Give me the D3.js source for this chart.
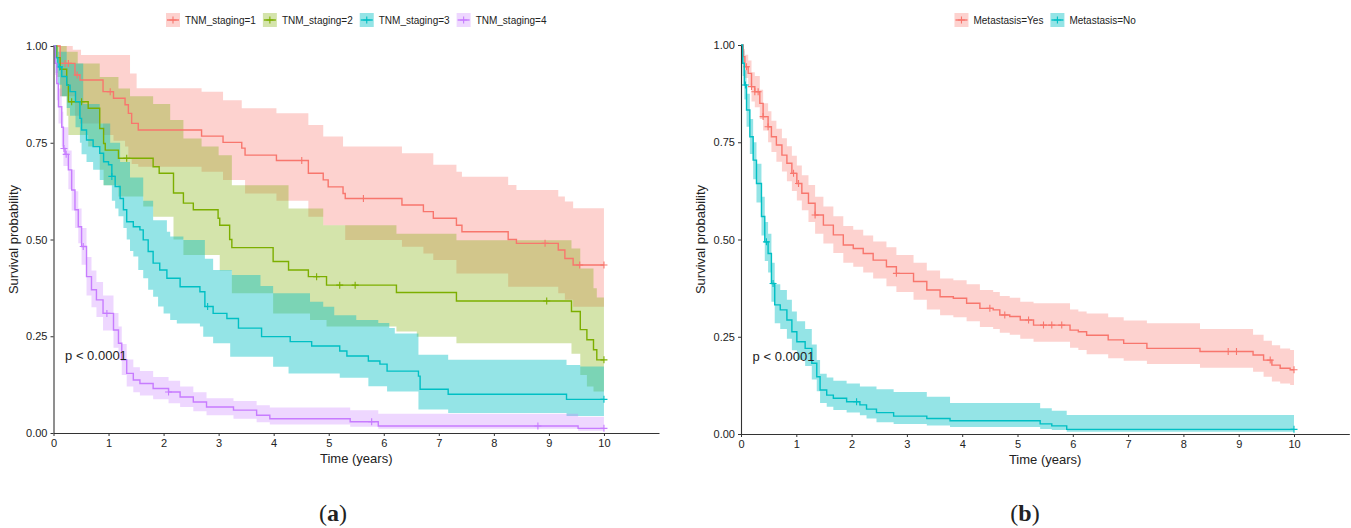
<!DOCTYPE html>
<html>
<head>
<meta charset="utf-8">
<script src="https://cdn.jsdelivr.net/npm/d3@7"></script>
<style>
  body { margin: 0; background: #fff; }
  text { font-family: "Liberation Sans", Arial, sans-serif; fill: #222; }
</style>
</head>
<body>
<svg id="fig" width="1351" height="528"></svg>
<script>
/*
 * Kaplan-Meier curves, two panels
 * values are [time (years), survival probability]
 */

// ---- panel (a) : TNM staging ----
var tnm1Surv = [[0,1],[0.12,0.955],[0.39,0.925],[0.48,0.912],[0.90,0.882],[1.09,0.865],[1.30,0.848],[1.36,0.826],[1.42,0.80],[1.54,0.783],[2.69,0.767],[3.08,0.751],[3.42,0.736],[3.48,0.718],[4.05,0.704],[4.63,0.671],[4.90,0.654],[4.99,0.636],[5.26,0.619],[5.30,0.606],[6.33,0.589],[6.72,0.572],[6.90,0.555],[7.32,0.537],[7.42,0.520],[8.26,0.50],[8.41,0.490],[9.17,0.473],[9.29,0.451],[9.44,0.434]];
var tnm1Upper = [[0,1],[0.35,0.99],[0.5,0.977],[1.39,0.929],[1.51,0.891],[2.69,0.882],[3.08,0.860],[3.42,0.839],[4.05,0.826],[4.63,0.796],[4.90,0.766],[5.26,0.740],[6.33,0.723],[6.90,0.693],[7.32,0.675],[7.42,0.662],[8.26,0.641],[8.41,0.628],[9.17,0.611],[9.29,0.598],[9.44,0.581]];
var tnm1Lower = [[0,1],[0.12,0.87],[0.39,0.82],[0.48,0.80],[0.90,0.77],[1.09,0.755],[1.30,0.74],[1.36,0.71],[1.42,0.695],[1.54,0.688],[2.69,0.675],[3.08,0.654],[3.48,0.619],[4.05,0.600],[4.63,0.559],[4.90,0.537],[5.30,0.499],[6.33,0.481],[6.72,0.464],[6.90,0.447],[7.32,0.412],[8.26,0.378],[9.17,0.361],[9.29,0.344],[9.44,0.326]];
var tnm1Censor = [0.21,0.27,0.43,1.03,4.51,5.63,8.93,9.56,10];

var tnm2Surv = [[0,1],[0.06,0.97],[0.12,0.94],[0.24,0.90],[0.27,0.856],[0.63,0.839],[0.84,0.787],[0.91,0.748],[0.94,0.731],[1.18,0.710],[1.81,0.688],[1.92,0.671],[2.18,0.620],[2.36,0.594],[2.54,0.577],[2.99,0.555],[3.02,0.537],[3.20,0.50],[3.24,0.479],[3.99,0.443],[4.27,0.421],[4.63,0.404],[4.96,0.382],[6.23,0.363],[7.32,0.341],[9.41,0.314],[9.57,0.267],[9.69,0.241],[9.81,0.215],[9.87,0.189]];
var tnm2Upper = [[0,1],[0.24,0.985],[0.44,0.955],[0.84,0.92],[1.18,0.89],[1.39,0.87],[1.81,0.85],[2.12,0.809],[2.36,0.761],[2.69,0.740],[3.0,0.718],[3.24,0.64],[4.27,0.58],[4.90,0.537],[6.23,0.515],[7.32,0.498],[9.41,0.477],[9.57,0.425],[9.81,0.374],[9.87,0.35]];
var tnm2Lower = [[0,1],[0.06,0.92],[0.12,0.87],[0.24,0.82],[0.27,0.77],[0.63,0.74],[0.84,0.68],[0.91,0.64],[1.18,0.611],[1.63,0.585],[1.81,0.559],[2.18,0.50],[2.36,0.46],[3.02,0.42],[3.24,0.361],[3.99,0.309],[4.66,0.292],[4.96,0.275],[6.23,0.262],[6.6,0.249],[7.32,0.232],[9.41,0.205],[9.57,0.15],[9.69,0.12],[9.81,0.107]];
var tnm2Censor = [0.33,0.51,1.33,4.78,5.20,5.48,8.96,10];

var tnm3Surv = [[0,1],[0.04,0.97],[0.08,0.946],[0.15,0.921],[0.24,0.899],[0.30,0.882],[0.40,0.856],[0.48,0.813],[0.51,0.783],[0.60,0.757],[0.72,0.740],[0.84,0.723],[0.91,0.701],[1.0,0.693],[1.06,0.663],[1.12,0.637],[1.21,0.606],[1.27,0.577],[1.33,0.546],[1.45,0.533],[1.57,0.525],[1.63,0.499],[1.72,0.469],[1.81,0.439],[1.93,0.421],[2.06,0.400],[2.30,0.378],[2.66,0.365],[2.75,0.327],[2.90,0.309],[3.15,0.296],[3.36,0.271],[3.78,0.249],[4.30,0.236],[4.69,0.225],[5.20,0.212],[5.33,0.199],[5.72,0.186],[5.93,0.178],[6.06,0.160],[6.63,0.147],[6.66,0.113],[7.17,0.100],[9.32,0.087]];
var tnm3Upper = [[0,1],[0.08,0.985],[0.24,0.955],[0.54,0.85],[0.84,0.80],[1.03,0.75],[1.21,0.70],[1.39,0.66],[1.63,0.60],[1.81,0.55],[2.06,0.52],[2.12,0.508],[2.36,0.499],[2.75,0.45],[2.90,0.421],[3.24,0.408],[3.76,0.38],[3.99,0.361],[4.66,0.339],[4.9,0.326],[5.1,0.304],[5.5,0.292],[5.9,0.284],[6.1,0.271],[6.2,0.257],[6.63,0.202],[7.17,0.189],[9.32,0.176],[9.57,0.172]];
var tnm3Lower = [[0,1],[0.04,0.93],[0.08,0.90],[0.15,0.87],[0.24,0.84],[0.30,0.82],[0.40,0.79],[0.48,0.75],[0.51,0.72],[0.60,0.70],[0.72,0.68],[0.84,0.654],[0.91,0.64],[1.06,0.60],[1.12,0.58],[1.18,0.56],[1.27,0.53],[1.33,0.50],[1.39,0.47],[1.45,0.456],[1.54,0.421],[1.63,0.40],[1.72,0.37],[1.81,0.352],[1.90,0.327],[2.0,0.309],[2.12,0.292],[2.24,0.283],[2.66,0.275],[2.72,0.249],[2.90,0.232],[3.21,0.197],[3.99,0.171],[4.27,0.154],[5.2,0.143],[5.72,0.121],[6.06,0.107],[6.63,0.061],[7.17,0.052],[9.32,0.044]];
var tnm3Censor = [0.11,1.06,2.80,10];

var tnm4Surv = [[0,1],[0.03,0.955],[0.06,0.903],[0.09,0.843],[0.15,0.79],[0.18,0.735],[0.21,0.72],[0.27,0.68],[0.33,0.628],[0.39,0.577],[0.45,0.533],[0.51,0.482],[0.60,0.404],[0.69,0.370],[0.78,0.344],[0.90,0.309],[1.09,0.266],[1.18,0.232],[1.24,0.189],[1.33,0.154],[1.45,0.137],[1.57,0.128],[1.81,0.115],[2.09,0.106],[2.30,0.093],[2.54,0.080],[2.78,0.067],[3.27,0.059],[3.69,0.046],[3.93,0.037],[5.39,0.029],[5.90,0.018],[9.53,0.012]];
var tnm4Upper = [[0,1],[0.03,0.985],[0.06,0.945],[0.09,0.89],[0.15,0.83],[0.18,0.79],[0.27,0.73],[0.33,0.68],[0.39,0.625],[0.45,0.58],[0.51,0.53],[0.60,0.455],[0.69,0.42],[0.78,0.39],[0.90,0.355],[1.09,0.31],[1.18,0.275],[1.24,0.23],[1.33,0.19],[1.45,0.17],[1.57,0.16],[1.81,0.145],[2.09,0.135],[2.30,0.12],[2.54,0.105],[2.78,0.09],[3.27,0.083],[3.69,0.072],[3.93,0.066],[5.39,0.059],[5.90,0.05],[9.53,0.042]];
var tnm4Lower = [[0,1],[0.03,0.925],[0.06,0.86],[0.09,0.80],[0.15,0.74],[0.18,0.69],[0.27,0.63],[0.33,0.575],[0.39,0.53],[0.45,0.49],[0.51,0.435],[0.60,0.355],[0.69,0.325],[0.78,0.30],[0.90,0.265],[1.09,0.22],[1.18,0.19],[1.24,0.15],[1.33,0.12],[1.45,0.105],[1.57,0.097],[1.81,0.087],[2.09,0.077],[2.30,0.067],[2.54,0.056],[2.78,0.046],[3.27,0.037],[3.69,0.028],[3.93,0.022],[5.39,0.016],[5.90,0.011],[9.53,0.006]];
var tnm4Censor = [0.19,0.23,0.54,0.97,2.09,5.78,8.80,10];

// ---- panel (b) : metastasis ----
var metYesSurv = [[0,1],[0.04,0.970],[0.07,0.944],[0.13,0.927],[0.19,0.893],[0.25,0.880],[0.34,0.850],[0.40,0.816],[0.49,0.790],[0.55,0.764],[0.64,0.743],[0.74,0.717],[0.83,0.696],[0.92,0.670],[1.01,0.644],[1.10,0.619],[1.22,0.593],[1.34,0.563],[1.49,0.537],[1.67,0.512],[1.85,0.486],[2.03,0.477],[2.21,0.464],[2.39,0.447],[2.63,0.430],[2.81,0.413],[3.12,0.392],[3.36,0.370],[3.60,0.353],[3.84,0.349],[4.08,0.336],[4.32,0.323],[4.56,0.319],[4.68,0.306],[4.86,0.302],[5.05,0.293],[5.29,0.280],[5.95,0.267],[6.10,0.263],[6.25,0.254],[6.64,0.242],[6.92,0.233],[7.34,0.220],[8.30,0.212],[9.26,0.203],[9.45,0.190],[9.60,0.177],[9.75,0.169],[9.93,0.165]];
var metYesUpper = [[0,1],[0.04,0.99],[0.07,0.975],[0.13,0.96],[0.19,0.93],[0.25,0.92],[0.34,0.885],[0.40,0.85],[0.49,0.83],[0.55,0.805],[0.64,0.785],[0.74,0.76],[0.83,0.74],[0.92,0.715],[1.01,0.69],[1.10,0.665],[1.22,0.64],[1.34,0.61],[1.49,0.585],[1.67,0.56],[1.85,0.535],[2.03,0.525],[2.21,0.51],[2.39,0.495],[2.63,0.48],[2.81,0.46],[3.12,0.44],[3.36,0.42],[3.60,0.40],[3.84,0.395],[4.08,0.385],[4.32,0.37],[4.56,0.365],[4.68,0.355],[4.86,0.35],[5.05,0.34],[5.29,0.336],[5.95,0.32],[6.10,0.315],[6.25,0.31],[6.64,0.30],[6.92,0.292],[7.34,0.285],[8.30,0.27],[9.26,0.255],[9.45,0.24],[9.60,0.228],[9.75,0.22],[9.93,0.216]];
var metYesLower = [[0,1],[0.04,0.95],[0.07,0.915],[0.13,0.895],[0.19,0.855],[0.25,0.84],[0.34,0.81],[0.40,0.78],[0.49,0.75],[0.55,0.725],[0.64,0.70],[0.74,0.675],[0.83,0.65],[0.92,0.625],[1.01,0.60],[1.10,0.575],[1.22,0.545],[1.34,0.515],[1.49,0.49],[1.67,0.465],[1.85,0.44],[2.03,0.43],[2.21,0.415],[2.39,0.40],[2.63,0.38],[2.81,0.365],[3.12,0.345],[3.36,0.32],[3.60,0.305],[3.84,0.30],[4.08,0.29],[4.32,0.275],[4.56,0.27],[4.68,0.26],[4.86,0.255],[5.05,0.245],[5.29,0.237],[5.95,0.222],[6.10,0.216],[6.25,0.205],[6.64,0.195],[6.92,0.188],[7.34,0.18],[8.30,0.17],[9.26,0.16],[9.45,0.147],[9.60,0.135],[9.75,0.13],[9.93,0.126]];
var metYesCensor = [0.10,0.19,0.25,0.31,0.40,0.49,0.95,1.04,1.34,2.81,4.50,4.77,5.20,5.47,5.62,5.80,8.81,8.96,9.57,10];

var metNoSurv = [[0,1],[0.03,0.953],[0.06,0.897],[0.10,0.833],[0.16,0.764],[0.22,0.704],[0.28,0.644],[0.37,0.559],[0.43,0.494],[0.49,0.464],[0.55,0.387],[0.61,0.332],[0.71,0.319],[0.83,0.293],[0.92,0.263],[1.01,0.237],[1.16,0.220],[1.28,0.182],[1.37,0.147],[1.43,0.113],[1.55,0.100],[1.67,0.092],[1.91,0.083],[2.15,0.075],[2.27,0.064],[2.45,0.055],[2.76,0.046],[3.36,0.040],[3.78,0.034],[5.41,0.026],[5.62,0.021],[5.89,0.012]];
var metNoUpper = [[0,1],[0.03,0.985],[0.06,0.935],[0.10,0.875],[0.16,0.81],[0.22,0.75],[0.28,0.695],[0.37,0.61],[0.43,0.545],[0.49,0.515],[0.55,0.44],[0.61,0.385],[0.71,0.37],[0.83,0.345],[0.92,0.315],[1.01,0.29],[1.16,0.27],[1.28,0.23],[1.37,0.19],[1.43,0.155],[1.55,0.145],[1.67,0.137],[1.91,0.13],[2.15,0.122],[2.45,0.115],[2.76,0.108],[3.36,0.096],[3.78,0.08],[5.41,0.066],[5.62,0.06],[5.89,0.049]];
var metNoLower = [[0,1],[0.03,0.92],[0.06,0.86],[0.10,0.79],[0.16,0.72],[0.22,0.655],[0.28,0.595],[0.37,0.51],[0.43,0.445],[0.49,0.415],[0.55,0.34],[0.61,0.285],[0.71,0.27],[0.83,0.245],[0.92,0.215],[1.01,0.19],[1.16,0.175],[1.28,0.14],[1.37,0.11],[1.43,0.08],[1.55,0.07],[1.67,0.062],[1.91,0.055],[2.15,0.048],[2.27,0.04],[2.45,0.03],[2.76,0.026],[3.36,0.022],[3.78,0.018],[5.41,0.013],[5.62,0.01],[5.89,0.006]];
var metNoCensor = [0.08,0.46,0.58,2.09,10];

var xTicks = [0,1,2,3,4,5,6,7,8,9,10];
var yTicks = [0, 0.25, 0.5, 0.75, 1];
var pLabel = 'p < 0.0001';

/**
 * panels
 */
var panels = [
  {
    x0: 53.5, x1: 659, yTop: 46, yBot: 433, caption: 'a', captionX: 333,
    series: [
      { name: 'TNM_staging=1', color: '#F8766D', alpha: 0.33, surv: tnm1Surv, upper: tnm1Upper, lower: tnm1Lower, censor: tnm1Censor },
      { name: 'TNM_staging=2', color: '#7CAE00', alpha: 0.33, surv: tnm2Surv, upper: tnm2Upper, lower: tnm2Lower, censor: tnm2Censor },
      { name: 'TNM_staging=3', color: '#00BFC4', alpha: 0.42, surv: tnm3Surv, upper: tnm3Upper, lower: tnm3Lower, censor: tnm3Censor },
      { name: 'TNM_staging=4', color: '#C77CFF', alpha: 0.3,  surv: tnm4Surv, upper: tnm4Upper, lower: tnm4Lower, censor: tnm4Censor }
    ]
  },
  {
    x0: 741, x1: 1349.3, yTop: 45, yBot: 434, caption: 'b', captionX: 1025,
    series: [
      { name: 'Metastasis=Yes', color: '#F8766D', alpha: 0.33, surv: metYesSurv, upper: metYesUpper, lower: metYesLower, censor: metYesCensor },
      { name: 'Metastasis=No',  color: '#00BFC4', alpha: 0.42, surv: metNoSurv,  upper: metNoUpper,  lower: metNoLower,  censor: metNoCensor }
    ]
  }
];

var svg = d3.select('#fig');

// value of a step function at time t
function stepAt(pts, t) {
  var v = pts[0][1];
  for (var i = 0; i < pts.length; i++) {
    if (pts[i][0] <= t) v = pts[i][1]; else break;
  }
  return v;
}

function bandPoints(up, lo, tEnd) {
  var ts = Array.from(new Set(up.map(function(d) { return d[0]; }).concat(lo.map(function(d) { return d[0]; }))))
    .filter(function(t) { return t < tEnd; })
    .sort(function(a, b) { return a - b; });
  ts.push(tEnd);
  return ts.map(function(t) { return { t: t, up: stepAt(up, t), lo: stepAt(lo, t) }; });
}

function plusPath(cx, cy, h) {
  return 'M' + (cx - h) + ',' + cy + 'H' + (cx + h) + 'M' + cx + ',' + (cy - h) + 'V' + (cy + h);
}

panels.forEach(function(p) {
  var x = d3.scaleLinear().domain([0, 11]).range([p.x0, p.x1]);
  var y = d3.scaleLinear().domain([0, 1]).range([p.yBot, p.yTop]);
  var tEnd = 10;
  var g = svg.append('g');

  // confidence bands
  var area = d3.area().curve(d3.curveStepAfter)
    .x(function(d) { return x(d.t); })
    .y0(function(d) { return y(d.lo); })
    .y1(function(d) { return y(d.up); });
  p.series.forEach(function(s) {
    g.append('path')
      .attr('d', area(bandPoints(s.upper, s.lower, tEnd)))
      .attr('fill', s.color)
      .attr('fill-opacity', s.alpha);
  });

  // survival curves
  var line = d3.line().curve(d3.curveStepAfter)
    .x(function(d) { return x(d[0]); })
    .y(function(d) { return y(d[1]); });
  p.series.forEach(function(s) {
    var pts = s.surv.concat([[tEnd, s.surv[s.surv.length - 1][1]]]);
    g.append('path')
      .attr('d', line(pts))
      .attr('fill', 'none')
      .attr('stroke', s.color)
      .attr('stroke-width', 1.4);
    g.append('path')
      .attr('d', s.censor.map(function(t) { return plusPath(x(t), y(stepAt(s.surv, t)), 3.5); }).join(''))
      .attr('stroke', s.color)
      .attr('stroke-width', 1.1)
      .attr('fill', 'none');
  });

  // axes
  var yAxis = g.append('g')
    .attr('transform', 'translate(' + p.x0 + ',0)')
    .call(d3.axisLeft(y).tickValues(yTicks).tickFormat(d3.format('.2f')).tickSize(3).tickSizeOuter(0));
  var xAxis = g.append('g')
    .attr('transform', 'translate(0,' + p.yBot + ')')
    .call(d3.axisBottom(x).tickValues(xTicks).tickFormat(d3.format('d')).tickSize(3).tickSizeOuter(0));
  [xAxis, yAxis].forEach(function(a) {
    a.select('.domain').attr('stroke', '#333').attr('stroke-width', 1.1);
    a.selectAll('.tick line').attr('stroke', '#333');
    a.selectAll('.tick text').attr('font-size', 11).attr('fill', '#222')
      .style('font-family', '"Liberation Sans", Arial, sans-serif');
  });

  g.append('text')
    .attr('transform', 'translate(' + (p.x0 - 36) + ',' + ((p.yTop + p.yBot) / 2) + ')rotate(-90)')
    .attr('text-anchor', 'middle')
    .attr('font-size', 13)
    .text('Survival probability');

  g.append('text')
    .attr('x', (p.x0 + p.x1) / 2)
    .attr('y', p.yBot + 30)
    .attr('text-anchor', 'middle')
    .attr('font-size', 13)
    .text('Time (years)');

  g.append('text')
    .attr('x', x(0.21))
    .attr('y', y(0.2))
    .attr('dy', '0.35em')
    .attr('font-size', 13)
    .text(pLabel);

  // legend
  var leg = g.append('g');
  var cursor = 0;
  p.series.forEach(function(s) {
    var it = leg.append('g').attr('transform', 'translate(' + cursor + ',0)');
    it.append('rect').attr('x', 0).attr('y', -7).attr('width', 14).attr('height', 14)
      .attr('fill', s.color).attr('fill-opacity', s.alpha);
    it.append('line').attr('x1', 1).attr('x2', 13).attr('y1', 0).attr('y2', 0)
      .attr('stroke', s.color).attr('stroke-width', 1.4);
    it.append('path').attr('d', plusPath(7, 0, 3.5)).attr('stroke', s.color).attr('stroke-width', 1.1);
    var tx = it.append('text').attr('x', 19).attr('y', 0).attr('dy', '0.35em')
      .attr('font-size', 10).text(s.name);
    cursor += 19 + tx.node().getComputedTextLength() + 7;
  });
  var legW = cursor - 7;
  leg.attr('transform', 'translate(' + ((p.x0 + p.x1) / 2 - legW / 2) + ',20)');

  // caption
  var cap = svg.append('text')
    .attr('x', p.captionX)
    .attr('y', 521)
    .attr('text-anchor', 'middle')
    .style('font-family', '"Liberation Serif", "DejaVu Serif", serif')
    .attr('font-size', 24)
    .attr('fill', '#000');
  cap.append('tspan').text('(');
  cap.append('tspan').attr('font-weight', 'bold').text(p.caption);
  cap.append('tspan').text(')');
});
</script>
</body>
</html>
